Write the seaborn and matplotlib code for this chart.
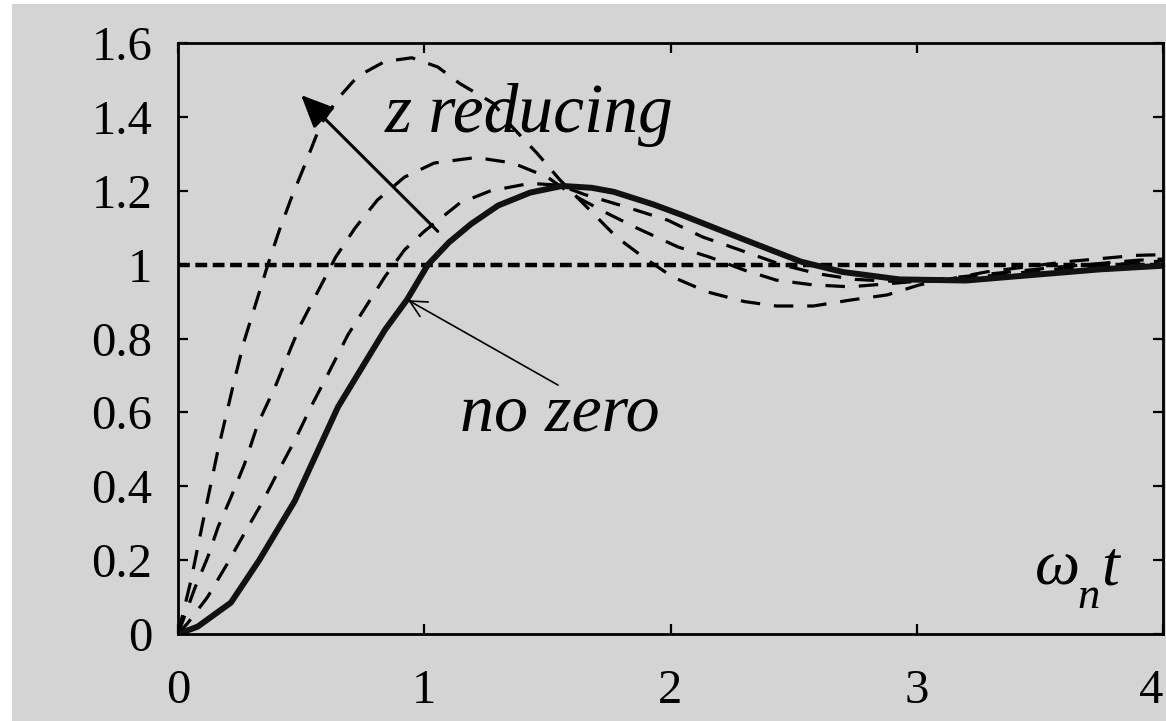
import matplotlib
matplotlib.use("Agg")
import matplotlib.pyplot as plt
import seaborn as sns
from matplotlib.patches import Rectangle

# ---- data ----
x_nozero = [0, 0.08, 0.215, 0.33, 0.474, 0.65, 0.84, 0.93, 1.015, 1.1, 1.19, 1.3, 1.43, 1.56,
            1.68, 1.77, 1.93, 2.04, 2.12, 2.31, 2.53, 2.70, 2.93, 3.2, 3.47, 3.74, 4.0]
y_nozero = [0, 0.02, 0.085, 0.2, 0.36, 0.615, 0.823, 0.905, 1.0, 1.06, 1.11, 1.16, 1.195, 1.213,
            1.208, 1.197, 1.163, 1.136, 1.115, 1.065, 1.008, 0.98, 0.96, 0.957, 0.972, 0.987, 0.997]

x_zero_a = [0, 0.053, 0.10, 0.163, 0.23, 0.27, 0.365, 0.41, 0.46, 0.515, 0.58, 0.65, 0.73,
            0.84, 0.95, 1.055, 1.145, 1.28, 1.35, 1.46, 1.55, 1.66, 1.78, 1.89, 2.01, 2.15,
            2.30, 2.43, 2.58, 2.73, 2.88, 3.01, 3.28, 3.61, 3.89, 4.0]
y_zero_a = [0, 0.146, 0.30, 0.50, 0.69, 0.796, 1.0, 1.09, 1.18, 1.27, 1.38, 1.45, 1.51,
            1.55, 1.56, 1.535, 1.49, 1.437, 1.378, 1.30, 1.23, 1.156, 1.075, 1.02, 0.966, 0.926,
            0.90, 0.888, 0.888, 0.904, 0.918, 0.945, 0.98, 1.008, 1.025, 1.027]

x_zero_b = [0, 0.07, 0.122, 0.163, 0.215, 0.27, 0.325, 0.395, 0.46, 0.50, 0.57, 0.64, 0.72,
            0.81, 0.92, 1.04, 1.21, 1.36, 1.50, 1.60, 1.74, 1.86, 2.03, 2.16, 2.30, 2.43,
            2.58, 2.73, 2.88, 3.0, 3.3, 3.6, 3.9, 4.0]
y_zero_b = [0, 0.127, 0.21, 0.29, 0.37, 0.46, 0.57, 0.67, 0.777, 0.84, 0.93, 1.02, 1.10,
            1.175, 1.237, 1.275, 1.29, 1.275, 1.237, 1.19, 1.14, 1.10, 1.048, 1.02, 0.985, 0.958,
            0.945, 0.94, 0.948, 0.955, 0.975, 0.995, 1.012, 1.015]

x_zero_c = [0, 0.04, 0.12, 0.20, 0.27, 0.34, 0.41, 0.475, 0.54, 0.61, 0.69, 0.84, 0.92, 1.0,
            1.145, 1.27, 1.43, 1.55, 1.65, 1.82, 1.99, 2.13, 2.28, 2.45, 2.6, 2.75, 2.9,
            3.05, 3.3, 3.6, 3.9, 4.0]
y_zero_c = [0, 0.03, 0.10, 0.19, 0.273, 0.354, 0.444, 0.525, 0.615, 0.705, 0.81, 0.967, 1.04, 1.09,
            1.167, 1.20, 1.22, 1.215, 1.19, 1.156, 1.12, 1.075, 1.04, 1.0, 0.975, 0.96, 0.955,
            0.955, 0.97, 0.99, 1.005, 1.01]

x_final = [0, 4]
y_final = [1, 1]

x_ticks = [0, 1, 2, 3, 4]
x_ticklabels = ["0", "1", "2", "3", "4"]
y_ticks = [0, 0.2, 0.4, 0.6, 0.8, 1.0, 1.2, 1.4, 1.6]
y_ticklabels = ["0", "0.2", "0.4", "0.6", "0.8", "1", "1.2", "1.4", "1.6"]

label_z = "z reducing"
label_nozero = "no zero"
label_x_main = "ω"
label_x_sub = "n"
label_x_tail = "t"

# ---- style ----
BG = "#d4d4d4"
sns.set_style("ticks")
plt.rcParams["font.family"] = ["Liberation Serif", "DejaVu Serif"]
plt.rcParams["text.color"] = "black"
plt.rcParams["lines.scale_dashes"] = False

fig = plt.figure(figsize=(11.66, 7.21), dpi=100, facecolor="white")
fig.patches.append(Rectangle((12 / 1166, 0), 1 - 12 / 1166, 717 / 721,
                             transform=fig.transFigure, facecolor=BG,
                             edgecolor="none", zorder=-10))
ax = fig.add_axes([178 / 1166, 87 / 721, (1163 - 178) / 1166, (634 - 43) / 721])
ax.set_facecolor(BG)

# final value line (thick short dashes)
sns.lineplot(x=x_final, y=y_final, ax=ax, color="black", lw=3.2,
             estimator=None, sort=False)
ax.lines[-1].set_dashes([8.5, 4.0])

for xs, ys in [(x_zero_a, y_zero_a), (x_zero_b, y_zero_b), (x_zero_c, y_zero_c)]:
    sns.lineplot(x=xs, y=ys, ax=ax, color="black", lw=2.3, estimator=None, sort=False)
    ax.lines[-1].set_dashes([14, 10])

sns.lineplot(x=x_nozero, y=y_nozero, ax=ax, color="#111111", lw=4.3,
             estimator=None, sort=False)
ax.lines[-1].set_solid_joinstyle("round")

ax.set_xlim(0, 4)
ax.set_ylim(0, 1.6)
ax.set_xticks(x_ticks)
ax.set_xticklabels(x_ticklabels)
ax.set_yticks(y_ticks)
ax.set_yticklabels(y_ticklabels)
ax.set_xlabel("")
ax.set_ylabel("")
for s in ax.spines.values():
    s.set_linewidth(2.0)
    s.set_color("black")
    s.set_visible(True)
ax.tick_params(direction="in", top=True, right=True, length=7, width=1.6,
               labelsize=35, colors="black")
ax.tick_params(axis="y", pad=18.5)
ax.tick_params(axis="x", pad=25)
ax.get_xticklabels()[-1].set_ha("right")

# annotations
ax.annotate("", xy=(0.50, 1.459), xytext=(1.055, 1.09),
            arrowprops=dict(arrowstyle="-|>,head_length=1.0,head_width=0.45",
                            mutation_scale=20, color="black", lw=2.2,
                            shrinkA=0, shrinkB=0))
ax.annotate("", xy=(0.934, 0.904), xytext=(1.543, 0.674),
            arrowprops=dict(arrowstyle="->,head_length=0.6,head_width=0.3",
                            mutation_scale=20, color="black", lw=1.2,
                            shrinkA=0, shrinkB=0))
ax.text(0.84, 1.359, label_z, fontsize=50, style="italic", va="baseline", ha="left")
ax.text(1.145, 0.552, label_nozero, fontsize=49, style="italic", va="baseline", ha="left")
ax.text(3.48, 0.133, label_x_main, fontsize=46, style="italic", va="baseline", ha="left")
ax.text(3.652, 0.070, label_x_sub, fontsize=32, style="italic", va="baseline", ha="left")
ax.text(3.75, 0.133, label_x_tail, fontsize=46, style="italic", va="baseline", ha="left")

fig.savefig("out.png", dpi=100, facecolor="white")
